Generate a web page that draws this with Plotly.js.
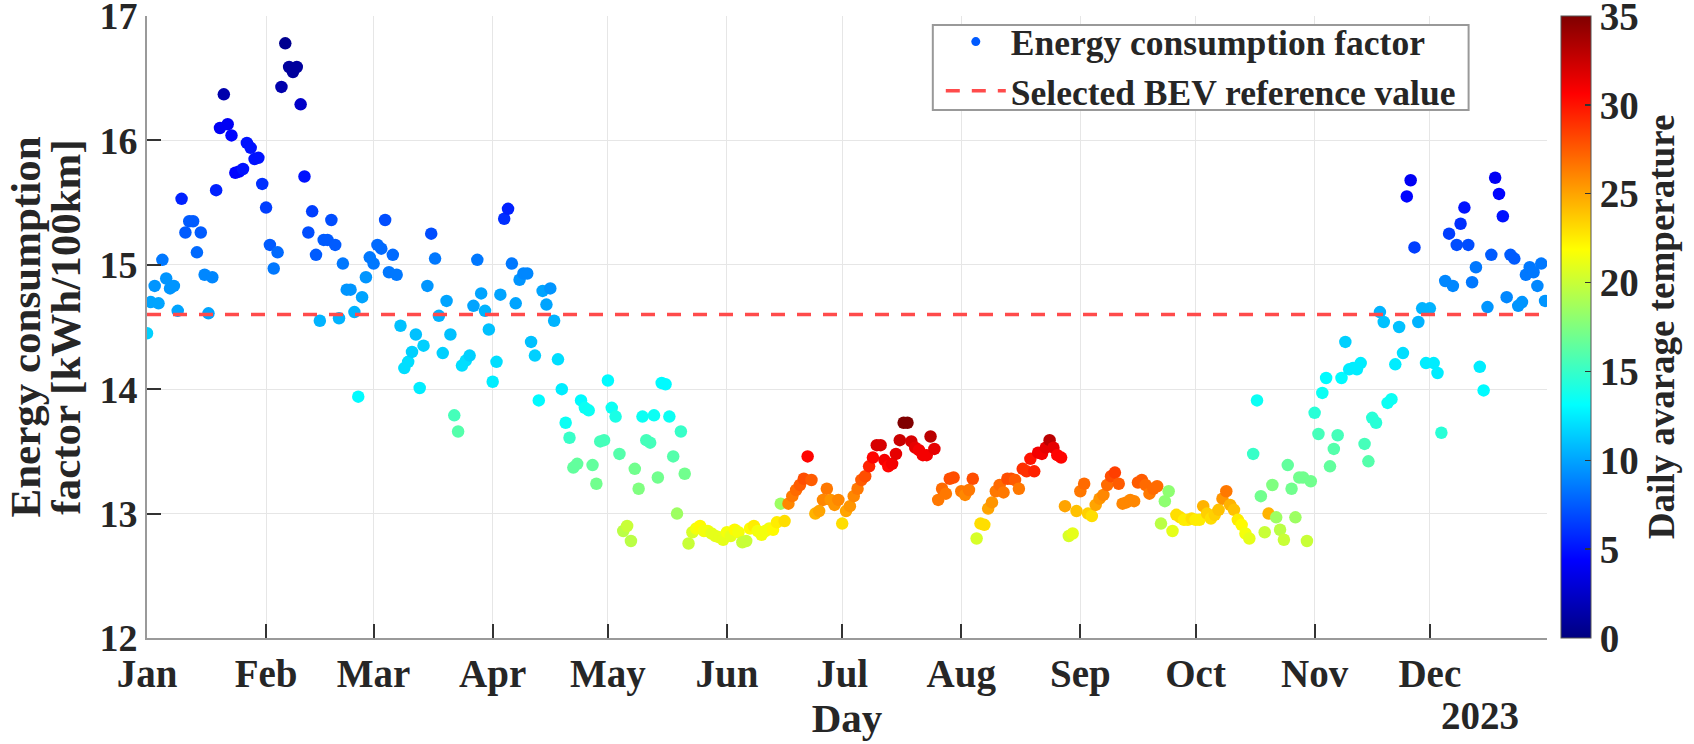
<!DOCTYPE html>
<html>
<head>
<meta charset="utf-8">
<script src="https://cdn.plot.ly/plotly-3.0.1.min.js"></script>
<style>
  html, body { margin: 0; padding: 0; background: #fff; }
  #chart { width: 1694px; height: 744px; }
</style>
</head>
<body>
<div id="chart"></div>
<script>
// daily energy consumption factor [kWh/100km], one value per day of 2023
var factor = [
  // Jan
  14.45, 14.70, 14.83, 14.69, 15.04, 14.89, 14.81, 14.83, 14.63, 15.53,
  15.26, 15.35, 15.35, 15.10, 15.26, 14.92, 14.61, 14.90, 15.60, 16.10,
  16.37, 16.13, 16.04, 15.74, 15.75, 15.77, 15.98, 15.94, 15.85, 15.86,
  15.65,
  // Feb
  15.46, 15.16, 14.97, 15.10, 16.43, 16.78, 16.59, 16.55, 16.59, 16.29,
  15.71, 15.26, 15.43, 15.08, 14.55, 15.20, 15.20, 15.36, 15.16, 14.57,
  15.01, 14.80, 14.80, 14.62, 13.94, 14.74, 14.90, 15.06,
  // Mar
  15.01, 15.16, 15.13, 15.36, 14.94, 15.08, 14.92, 14.51, 14.17, 14.22,
  14.30, 14.44, 14.01, 14.35, 14.83, 15.25, 15.05, 14.59, 14.29, 14.71,
  14.44, 13.79, 13.66, 14.19, 14.23, 14.27, 14.67, 15.04, 14.77, 14.63,
  14.48,
  // Apr
  14.06, 14.22, 14.76, 15.37, 15.45, 15.01, 14.69, 14.88, 14.93, 14.93,
  14.38, 14.27, 13.91, 14.79, 14.68, 14.81, 14.55, 14.24, 14.00, 13.73,
  13.61, 13.37, 13.40, 13.91, 13.85, 13.83, 13.39, 13.24, 13.58, 13.59,
  // May
  14.07, 13.85, 13.78, 13.48, 12.86, 12.90, 12.78, 13.36, 13.20, 13.78,
  13.59, 13.57, 13.79, 13.29, 14.05, 14.04, 13.78, 13.46, 13.00, 13.66,
  13.32, 12.76, 12.85, 12.88, 12.90, 12.86, 12.86, 12.84, 12.82, 12.81,
  12.79,
  // Jun
  12.85, 12.82, 12.87, 12.85, 12.77, 12.78, 12.88, 12.90, 12.86, 12.83,
  12.86, 12.88, 12.87, 12.93, 13.08, 12.94, 13.08, 13.14, 13.19, 13.23,
  13.28, 13.46, 13.27, 13.00, 13.02, 13.11, 13.20, 13.11, 13.07, 13.11,
  // Jul
  12.92, 13.02, 13.06, 13.14, 13.20, 13.27, 13.30, 13.38, 13.45, 13.55,
  13.55, 13.43, 13.38, 13.40, 13.48, 13.59, 13.73, 13.73, 13.58, 13.53,
  13.51, 13.47, 13.47, 13.62, 13.52, 13.11, 13.20, 13.16, 13.28, 13.29,
  null,
  // Aug
  13.18, 13.15, 13.19, 13.28, 12.80, 12.92, 12.91, 13.04, 13.09, 13.18,
  13.23, 13.17, 13.28, 13.28, 13.27, 13.20, 13.36, 13.34, 13.44, 13.34,
  13.49, 13.48, 13.53, 13.59, 13.53, 13.47, 13.45, 13.06, 12.82, 12.84,
  13.02,
  // Sep
  13.18, 13.24, 13.00, 12.98, 13.07, 13.12, 13.15, 13.23, 13.30, 13.33,
  13.24, 13.08, 13.09, 13.11, 13.10, 13.25, 13.27, 13.23, 13.16, 13.20,
  13.22, 12.92, 13.10, 13.18, 12.86, 12.99, 12.97, 12.95, 12.95, 12.96,
  // Oct
  12.95, 12.95, 13.06, 13.00, 12.96, 12.99, 13.03, 13.12, 13.18, 13.07,
  13.03, 12.95, 12.91, 12.84, 12.80, 13.48, 13.91, 13.14, 12.85, 13.00,
  13.23, 12.97, 12.87, 12.79, 13.39, 13.20, 12.97, 13.29, 13.29, 12.78,
  13.26,
  // Nov
  13.81, 13.64, 13.97, 14.09, 13.38, 13.52, 13.63, 14.09, 14.38, 14.16,
  14.17, 14.16, 14.21, 13.56, 13.42, 13.77, 13.73, 14.62, 14.54, 13.89,
  13.92, 14.20, 14.50, 14.29, 15.55, 15.68, 15.14, 14.54, 14.65, 14.21,
  // Dec
  14.65, 14.21, 14.13, 13.65, 14.87, 15.25, 14.83, 15.16, 15.33, 15.46,
  15.16, 14.86, 14.98, 14.18, 13.99, 14.66, 15.08, 15.70, 15.57, 15.39,
  14.74, 15.08, 15.05, 14.67, 14.70, 14.92, 14.98, 14.94, 14.83, 15.01,
  14.71
];

// daily average temperature [°C], same days
var temperature = [
  // Jan
  11.5, 10, 9.5, 10, 8.5, 9.5, 9.5, 9.5, 10, 5.5,
  7.5, 7.5, 7.5, 8, 7.5, 9, 10, 9, 5.5, 4,
  1.5, 4, 4.5, 4.5, 4.5, 5, 5, 5, 5, 5,
  6,
  // Feb
  6.5, 7.5, 8.5, 8, 1.5, 0.5, 1, 1, 1, 2.5,
  5, 7, 6.5, 7.5, 10.5, 7.5, 7.5, 7, 7.5, 10.5,
  8.5, 9.5, 9.5, 10.5, 13, 10, 9.5, 8.5,
  // Mar
  8.5, 8, 8, 7, 8.5, 8, 8.5, 11, 12, 12,
  11.5, 11, 12.5, 11.5, 9.5, 7, 8.5, 10.5, 11.5, 10,
  11, 15.5, 16, 12, 12, 11.5, 10, 8.5, 10, 10.5,
  11,
  // Apr
  12.5, 12, 10, 6, 5.5, 8.5, 10, 9.5, 9, 9,
  11, 11.5, 13, 10, 10, 9.5, 10.5, 12, 12.5, 13.5,
  15, 16.5, 16.5, 13, 13.5, 13.5, 16.5, 17, 15.5, 15.5,
  // May
  13, 13.5, 14, 16, 19.5, 20, 19.5, 17, 17.5, 13.5,
  15.5, 15.5, 13.5, 17, 13, 13, 13.5, 16, 18.5, 15,
  17, 20, 20.5, 21.5, 22, 21.5, 21.5, 21, 21, 21,
  21,
  // Jun
  21.5, 21, 22, 21.5, 20, 20, 22, 22.5, 21.5, 21.5,
  21.5, 21.5, 22, 22.5, 18.5, 23, 26, 26.5, 27, 27.5,
  28, 30.5, 27.5, 24.5, 25, 26, 26.5, 25.5, 25.5, 26,
  // Jul
  23, 25, 25.5, 26, 26.5, 27.5, 28, 29.5, 30.5, 32,
  32, 31, 30.5, 31, 31.5, 32.5, 35, 35, 32, 31.5,
  31, 31, 31, 33, 31.5, 26.5, 27, 26.5, 28, 28,
  null,
  // Aug
  26.5, 26, 26.5, 28, 20.5, 23, 23, 25, 25.5, 26.5,
  27, 26.5, 28, 28, 27.5, 26.5, 29, 29, 30, 29.5,
  31, 31, 31.5, 33, 31.5, 30.5, 30.5, 25, 20.5, 21,
  24,
  // Sep
  26.5, 27, 23.5, 23, 25, 25.5, 26, 27, 28, 28.5,
  27.5, 26, 26, 26, 26, 27.5, 27.5, 27, 26.5, 27,
  27, 19.5, 18, 18, 21, 23, 23, 22.5, 22.5, 23,
  // Oct
  22.5, 22.5, 24.5, 23.5, 23, 23.5, 24, 25.5, 26.5, 24.5,
  24, 22.5, 22, 21.5, 21, 15, 13.5, 17, 20, 24.5,
  17.5, 18.5, 19.5, 20, 16.5, 17, 18.5, 17, 17, 20,
  17,
  // Nov
  14.5, 15.5, 13.5, 13, 16.5, 16, 15.5, 13, 11.5, 12.5,
  12.5, 12.5, 12.5, 15.5, 16, 14.5, 14.5, 10.5, 11, 13.5,
  13.5, 12.5, 11, 12, 4.5, 4, 6.5, 10.5, 10.5, 12.5,
  // Dec
  10.5, 12.5, 12.5, 14.5, 9, 6.5, 9, 7, 6, 5,
  7, 8.5, 8.5, 12.5, 13, 9.5, 7.5, 4, 4.5, 5,
  9, 7.5, 7.5, 9.5, 9.5, 8.5, 8.5, 8.5, 9, 8.5,
  9.5
];

var referenceValue = 14.6;
var tempTicks = [0, 5, 10, 15, 20, 25, 30, 35];
var yTitleLines = ['Energy consumption', 'factor [kWh/100km]'];

var start = Date.UTC(2023, 0, 1);
var days = factor.map(function (v, i) {
  return new Date(start + i * 86400000).toISOString().slice(0, 10);
});

// MATLAB jet
var jet = [
  [0, 'rgb(0,0,128)'],
  [0.125, 'rgb(0,0,255)'],
  [0.375, 'rgb(0,255,255)'],
  [0.625, 'rgb(255,255,0)'],
  [0.875, 'rgb(255,0,0)'],
  [1, 'rgb(128,0,0)']
];

var serif = 'Liberation Serif, Times New Roman, serif';
function font(size) {
  return { family: serif, size: size, color: '#262626', weight: 'bold' };
}

var points = {
  x: days,
  y: factor,
  type: 'scatter',
  mode: 'markers',
  showlegend: false,
  marker: {
    size: 12.5,
    color: temperature,
    colorscale: jet,
    cmin: 0,
    cmax: 35,
    line: { width: 0 },
    colorbar: {
      x: 1.0099, xanchor: 'left', xpad: 0,
      y: 0.5, yanchor: 'middle', ypad: 0,
      len: 1, lenmode: 'fraction',
      thickness: 30, thicknessmode: 'pixels',
      outlinewidth: 1, outlinecolor: '#555',
      tickmode: 'array', tickvals: tempTicks,
      ticks: 'inside', ticklen: 6, tickwidth: 1.5, tickcolor: '#333',
      ticklabeloverflow: 'allow',
      tickfont: font(39),
      title: { text: 'Daily avarage temperature', side: 'right', font: font(37) }
    }
  }
};

// legend entry only
var legendDot = {
  x: [null], y: [null],
  type: 'scatter', mode: 'markers',
  name: 'Energy consumption factor',
  marker: { size: 9, color: 'rgb(0,90,255)' }
};

var refLine = {
  x: [days[0], days[days.length - 1]],
  y: [referenceValue, referenceValue],
  type: 'scatter', mode: 'lines',
  name: 'Selected BEV reference value',
  line: { color: 'rgb(255,75,75)', width: 3.5, dash: '14px,12px' }
};

var layout = {
  width: 1694,
  height: 744,
  margin: { l: 147, r: 136, t: 15, b: 106 },
  paper_bgcolor: '#fff',
  plot_bgcolor: '#fff',
  font: font(36),
  showlegend: true,
  hovermode: false,
  xaxis: {
    type: 'date',
    range: ['2023-01-01', '2023-12-31 12:00'],
    tickmode: 'linear', tick0: '2023-01-01', dtick: 'M1', tickformat: '%b',
    ticks: 'inside', ticklen: 14, tickwidth: 2, tickcolor: '#333',
    showline: true, linecolor: '#9a9a9a', linewidth: 2,
    showgrid: true, gridcolor: '#e6e6e6', gridwidth: 1,
    zeroline: false,
    tickfont: font(39),
    ticklabelstandoff: 0,
    ticklabeloverflow: 'allow',
    title: { text: 'Day', font: font(41), standoff: 6 }
  },
  yaxis: {
    range: [12, 17],
    tickmode: 'linear', tick0: 12, dtick: 1,
    ticks: 'inside', ticklen: 14, tickwidth: 2, tickcolor: '#333',
    showline: true, linecolor: '#9a9a9a', linewidth: 2,
    showgrid: true, gridcolor: '#e6e6e6', gridwidth: 1,
    zeroline: false,
    tickfont: font(38),
    ticklabeloverflow: 'allow'
  },
  legend: {
    x: 0.567, xanchor: 'left',
    y: 1.0064, yanchor: 'top',
    bgcolor: 'rgba(0,0,0,0)',
    borderwidth: 0,
    font: font(35.5),
    itemwidth: 60,
    tracegroupgap: 0
  },
  shapes: [
    {
      // legend box
      type: 'rect', xref: 'paper', yref: 'paper', layer: 'above',
      x0: 0.5613, x1: 0.944, y0: 0.849, y1: 0.9855,
      line: { color: '#999', width: 2 }, fillcolor: '#fff'
    }
  ],
  annotations: [
    {
      text: yTitleLines[0], xref: 'paper', yref: 'paper',
      x: -0.0868, y: 0.5, xanchor: 'center', yanchor: 'middle',
      textangle: -90, showarrow: false, font: font(43)
    },
    {
      text: yTitleLines[1], xref: 'paper', yref: 'paper',
      x: -0.0588, y: 0.5, xanchor: 'center', yanchor: 'middle',
      textangle: -90, showarrow: false, font: font(43)
    },
    {
      text: '2023', xref: 'paper', yref: 'paper',
      x: 0.952, y: -0.125, xanchor: 'center', yanchor: 'middle',
      showarrow: false, font: font(39)
    }
  ]
};

Plotly.newPlot('chart', [points, legendDot, refLine], layout, { displayModeBar: false, staticPlot: true });
</script>
</body>
</html>
